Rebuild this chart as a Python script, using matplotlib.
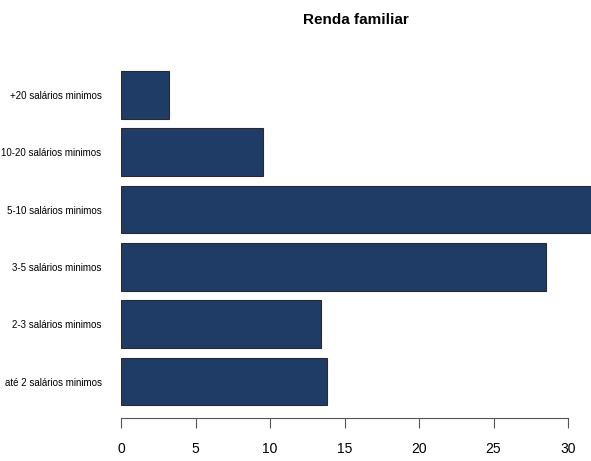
import matplotlib.pyplot as plt

categorias = ["até 2 salários minimos", "2-3 salários minimos", "3-5 salários minimos",
              "5-10 salários minimos", "10-20 salários minimos", "+20 salários minimos"]
valores = [13.8, 13.4, 28.5, 33.0, 9.5, 3.2]
ticks_x = [0, 5, 10, 15, 20, 25, 30]

plt.rcParams['font.family'] = ['Liberation Sans Narrow', 'Liberation Sans', 'DejaVu Sans']

fig = plt.figure(figsize=(5.91, 4.61), dpi=100)
ax = fig.add_axes([121 / 591, 1 - 418 / 461, 470 / 591, (418 - 60) / 461])

pos = list(range(len(categorias)))
ax.barh(pos, valores, height=1 / 1.2, color='#1f3c66', edgecolor='#2a2a2a', linewidth=0.8)

ax.set_xlim(0, 470 / 14.9)
ax.set_ylim(-36.5 / 57.3, 5 + 35 / 57.3)

for s in ['top', 'right', 'left']:
    ax.spines[s].set_visible(False)
ax.spines['bottom'].set_bounds(0, 30)
ax.spines['bottom'].set_color('#555555')
ax.spines['bottom'].set_position(('outward', 0))

ax.set_xticks(ticks_x)
ax.set_xticklabels([str(t) for t in ticks_x], fontsize=10)
ax.tick_params(axis='x', length=7, color='#555555', pad=10)
ax.set_yticks(pos)
ax.set_yticklabels(categorias, fontsize=7)
ax.tick_params(axis='y', length=0, pad=14)

fig.text(356 / 591, 1 - 20 / 461, "Renda familiar", ha='center', va='center',
         fontsize=11, fontweight='bold')

fig.savefig('out.png', dpi=100)
